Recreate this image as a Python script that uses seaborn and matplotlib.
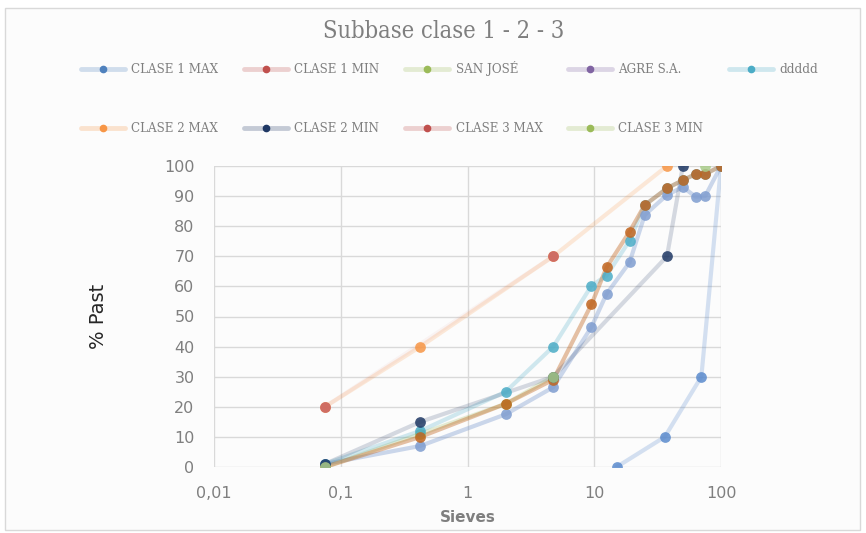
import matplotlib
matplotlib.use("Agg")
import matplotlib.pyplot as plt
import seaborn as sns
import pandas as pd
from matplotlib.lines import Line2D
from matplotlib.patches import Rectangle
from matplotlib.colors import to_rgba

# sieve openings (mm) and % passing
sieves = [0.075, 0.425, 2, 4.75, 9.5, 12.5, 19, 25, 37.5, 50, 63, 75, 100]

clase1_max = [1, 7, 17.5, 26.5, 46.5, 57.5, 68, 83.7, 90.4, 93, 89.8, 90, 100]
agre_sa = [0, 10, 21, 29, 54, 66.3, 78.2, 87, 92.6, 95.3, 97.3, 97.3, 100]
ddddd = [1, 12, 25, 40, 60.2, 63.6, 75.2, 87, 92.6, 95.3, 97.3, 97.3, 100]

clase1_min_x = [15, 36, 70, 100]
clase1_min = [0, 10, 30, 100]
san_jose_x = [0.075, 0.425, 2, 4.75]
san_jose = [0, 11, 21, 30]
clase2_max_x = [0.075, 0.425, 4.75, 37.5]
clase2_max = [20, 40, 70, 100]
clase2_min_x = [0.075, 0.425, 4.75, 37.5, 50]
clase2_min = [1, 15, 30, 70, 100]
clase3_max_x = [0.075, 4.75]
clase3_max = [20, 70]
clase3_min_x = [0.075, 4.75, 75]
clase3_min = [0, 30, 100]

legend_labels = ["CLASE 1 MAX", "CLASE 1 MIN", "SAN JOSÉ", "AGRE S.A.", "ddddd",
                 "CLASE 2 MAX", "CLASE 2 MIN", "CLASE 3 MAX", "CLASE 3 MIN"]
legend_colors = ["#4f81bd", "#c0504d", "#9bbb59", "#8064a2", "#4bacc6",
                 "#f79646", "#1f3864", "#c0504d", "#9bbb59"]

# (label, x, y, marker colour, line alpha) in drawing order
series = [
    ("CLASE 1 MIN", clase1_min_x, clase1_min, "#5b8bcd", 0.25),
    ("CLASE 1 MAX", sieves, clase1_max, "#7f9dd0", 0.40),
    ("SAN JOSÉ", san_jose_x, san_jose, "#9bbb59", 0.25),
    ("ddddd", sieves, ddddd, "#4bacc6", 0.25),
    ("AGRE S.A.", sieves, agre_sa, "#c0651f", 0.40),
    ("CLASE 2 MAX", clase2_max_x, clase2_max, "#f79646", 0.2),
    ("CLASE 3 MAX", clase3_max_x, clase3_max, "#c96464", 0.06),
    ("CLASE 2 MIN", clase2_min_x, clase2_min, "#1f3864", 0.18),
    ("CLASE 3 MIN", clase3_min_x, clase3_min, "#a9cc8a", 0.0),
]

sns.set_theme(style="white")
plt.rcParams["font.family"] = ["DejaVu Sans"]

fig = plt.figure(figsize=(8.66, 5.33), dpi=100)
fig.patch.set_facecolor("white")
fig.patches.append(Rectangle((5 / 866, 3 / 533), 855 / 866, 522 / 533,
                             transform=fig.transFigure, facecolor="#fcfcfc",
                             edgecolor="#d9d9d9", linewidth=1, zorder=-10))

ax = fig.add_axes([214 / 866, 1 - 467 / 533, 507 / 866, 301 / 533])
ax.set_facecolor("none")

for label, xs, ys, col, la in series:
    df = pd.DataFrame({"x": xs, "y": ys})
    if la > 0:
        sns.lineplot(data=df, x="x", y="y", ax=ax, color=col, alpha=la,
                     linewidth=3, sort=False, estimator=None, zorder=2)
    sns.scatterplot(data=df, x="x", y="y", ax=ax, color=col, alpha=0.85,
                    s=60, linewidth=0, zorder=3)

ax.set_xscale("log")
ax.set_xlim(0.01, 100)
ax.set_ylim(0, 100)
ax.set_xticks([0.01, 0.1, 1, 10, 100])
ax.set_xticklabels(["0,01", "0,1", "1", "10", "100"])
ax.set_xticks([], minor=True)
ax.set_yticks(range(0, 101, 10))
ax.grid(True, color="#d9d9d9", linewidth=1)
ax.set_axisbelow(True)
for s in ax.spines.values():
    s.set_visible(False)
ax.tick_params(axis="both", length=0, labelsize=11.5, labelcolor="#7f7f7f")
ax.tick_params(axis="x", pad=14)
ax.tick_params(axis="y", pad=14)

ax.set_xlabel("Sieves", fontsize=11, fontweight="bold", color="#7f7f7f", labelpad=6)
ax.set_ylabel("% Past", fontsize=14, color="#262626", labelpad=40)

fig.text(0.512, 1 - 32 / 533, "Subbase clase 1 - 2 - 3", ha="center", va="center",
         fontsize=17, color="#7f7f7f", family="DejaVu Serif", fontstretch="condensed")

handles = []
for col in legend_colors:
    handles.append(Line2D([0], [0], color=to_rgba(col, 0.25), linewidth=3.5,
                          marker="o", markersize=4.5, markerfacecolor=col,
                          markeredgecolor=col))
# legend fills column-wise, so interleave the two rows
blank = Line2D([0], [0], color="none")
order_h, order_l = [], []
for i in range(5):
    order_h.append(handles[i])
    order_l.append(legend_labels[i])
    if i + 5 < len(handles):
        order_h.append(handles[i + 5])
        order_l.append(legend_labels[i + 5])
    else:
        order_h.append(blank)
        order_l.append("")
leg = fig.legend(order_h, order_l, ncol=5, loc="upper left",
                 bbox_to_anchor=(76 / 866, 1 - 56 / 533), frameon=False,
                 prop={"family": "DejaVu Serif", "size": 9.5, "stretch": "condensed"},
                 handlelength=3.3, handletextpad=0.5, columnspacing=1.95,
                 labelspacing=3.5, labelcolor="#7f7f7f", borderaxespad=0)

fig.savefig("out.png", dpi=100, facecolor=fig.get_facecolor())
